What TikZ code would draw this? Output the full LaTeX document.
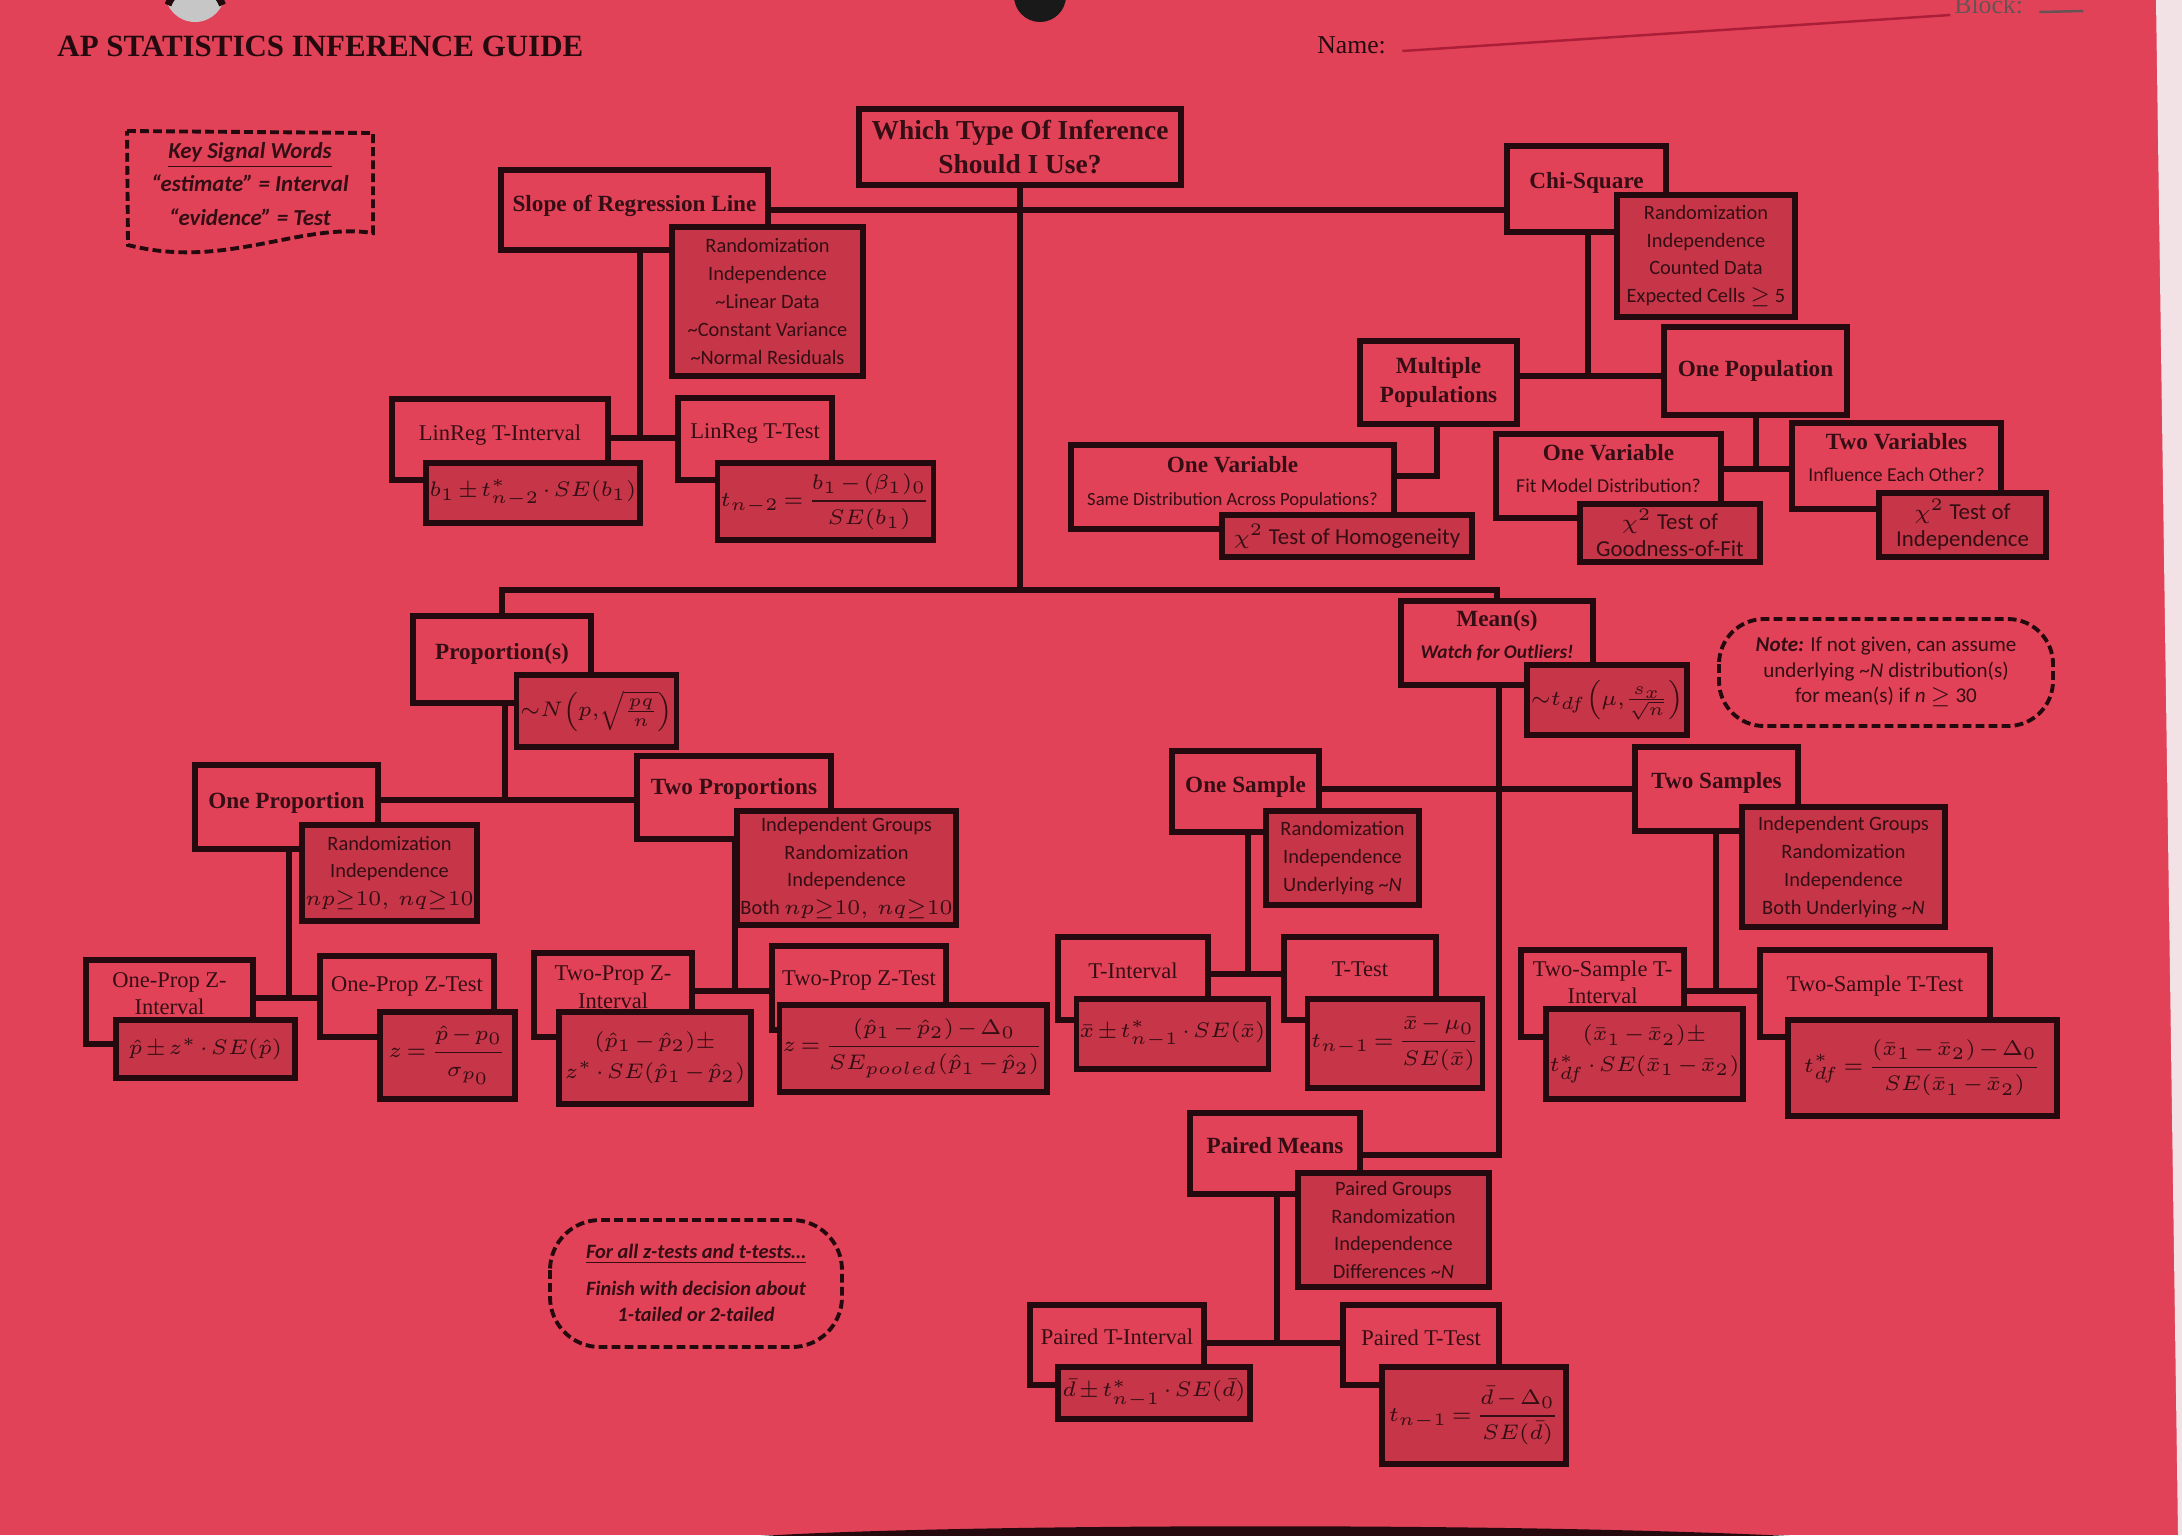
\documentclass[tikz,border=0pt]{standalone}
\usepackage{amsmath}
\usepackage{fontspec}
\setmainfont{Liberation Serif}
\newfontfamily\calfont{Carlito}
\newcommand{\tld}{{\char"7E}}
\newcommand{\mcomp}{\medmuskip=2mu\relax\thickmuskip=3mu\relax}
\definecolor{paper}{RGB}{226,66,88}
\definecolor{dk}{RGB}{198,54,72}
\definecolor{ink}{RGB}{36,10,14}
\definecolor{txt}{RGB}{52,14,20}
\definecolor{edgec}{RGB}{242,226,230}
\definecolor{pen}{RGB}{170,30,55}
\tikzset{
  box/.style={draw=ink, line width=1.5pt, fill=paper, inner sep=1pt, align=center, text=txt},
  sub/.style={box, fill=dk},
  hd/.style={font=\fontsize{6.6}{8.2}\selectfont\bfseries},
  lb/.style={font=\fontsize{6.4}{7.8}\selectfont},
  cd/.style={font=\calfont\fontsize{5.8}{7.9}\selectfont},
  big/.style={font=\calfont\fontsize{6.5}{7.8}\selectfont},
  fm/.style={font=\fontsize{6.2}{8.8}\selectfont},
  lift/.style={text depth=#1},
  link/.style={draw=ink, line width=1.5pt},
  dashline/.style={draw=ink, line width=1.1pt, dash pattern=on 2.5pt off 1.2pt},
  notetxt/.style={align=center, text=txt, font=\calfont\fontsize{6}{7.3}\selectfont},
}
\newcommand{\bx}[7]{\node[#1, minimum width={(#5-#3)*0.01cm}, minimum height={(#6-#4)*0.01cm}] (#2) at ({(#3+#5)/2},{(#4+#6)/2}) {#7};}
\begin{document}
\begin{tikzpicture}[x=0.01cm,y=-0.01cm]
\fill[paper] (0,0) rectangle (2182,1535);
\useasboundingbox (0,0) rectangle (2182,1535);
\fill[edgec] (2156,0) -- (2182,0) -- (2182,1535) -- (2178,1535) -- cycle;
% binder holes
\fill[gray!45] (195,-8) circle (30);
\draw[ink, line width=2pt] (168,5) arc (200:340:29);
\fill[black!90] (1040,-4) circle (26);
\fill[ink] (760,1536) .. controls (950,1524) and (1500,1522) .. (1790,1536) -- cycle;

% header
\node[anchor=west, font=\fontsize{8.8}{10}\selectfont\bfseries, text=ink] (title) at (45,46) {AP STATISTICS INFERENCE GUIDE};
\node[anchor=west, font=\fontsize{7.3}{9}\selectfont, text=ink] (namelbl) at (1305,45) {Name:};
\draw[pen, line width=0.7pt] (namelbl.east) ++(4,6) -- ++(548,-36);
\node[anchor=west, font=\fontsize{7.3}{9}\selectfont, text=ink!70] (blocklbl) at (1942,5) {Block:};
\draw[ink!70, line width=0.7pt] (blocklbl.east) ++(4,7) -- ++(44,-1);

% key signal words
\draw[dashline] (127,131) -- (373,133) -- (373,233) .. controls (300,222) and (225,270) .. (128,245) -- cycle;
\node[align=center, text=txt, font=\calfont\fontsize{6.5}{9.4}\selectfont\bfseries\itshape] (keysig) at (250,184) {\underline{Key Signal Words}\\“estimate” = Interval\\“evidence” = Test};

% junctions
\coordinate (hub) at (1023,590);
\coordinate (sj) at (640,438);
\coordinate (cj) at (1588,376);
\coordinate (mj) at (1437,476);
\coordinate (oj) at (1756,469);
\coordinate (pj) at (505,800);
\coordinate (opj) at (289,998);
\coordinate (tpj) at (735,991);
\coordinate (mnj) at (1499,789);
\coordinate (mnk) at (1499,1155);
\coordinate (osj) at (1248,974);
\coordinate (tsj) at (1716,991);
\coordinate (pmj) at (1277,1343);

% main boxes
\bx{box,font=\fontsize{7.8}{9.4}\selectfont\bfseries}{root}{859}{109}{1181}{185}{Which Type Of Inference\\Should I Use?}
\bx{box,hd,lift=3.9pt}{slope}{501}{170}{768}{250}{Slope of Regression Line}
\bx{box,lb,lift=3.9pt}{lrint}{392}{399}{608}{480}{LinReg T-Interval}
\bx{box,lb,lift=4.3pt}{lrtest}{678}{398}{832}{480}{LinReg T-Test}
\bx{box,hd,lift=4.7pt}{chi}{1507}{146}{1666}{232}{Chi-Square}
\bx{box,hd}{multi}{1360}{341}{1517}{424}{Multiple\\Populations}
\bx{box,hd}{onepop}{1664}{327}{1847}{415}{One Population}
\bx{box,hd,lift=3.5pt}{ov1}{1071}{445}{1394}{529}{One Variable\\[1pt]{\calfont\mdseries\fontsize{5.3}{6}\selectfont Same Distribution Across Populations?}}
\bx{box,hd,lift=4.3pt}{ov2}{1496}{434}{1721}{518}{One Variable\\[1pt]{\calfont\mdseries\fontsize{5.6}{6}\selectfont Fit Model Distribution?}}
\bx{box,hd,lift=4.7pt}{twov}{1792}{423}{2001}{509}{Two Variables\\[1pt]{\calfont\mdseries\fontsize{5.6}{6}\selectfont Influence Each Other?}}
\bx{box,hd,lift=4.7pt}{prop}{413}{616}{591}{703}{Proportion(s)}
\bx{box,hd,lift=3.9pt}{oneprop}{195}{765}{378}{849}{One Proportion}
\bx{box,hd,lift=6.2pt}{twoprop}{637}{756}{831}{839}{Two Proportions}
\bx{box,lb,lift=4.7pt}{opzi}{86}{960}{253}{1044}{One-Prop Z-\\Interval}
\bx{box,lb,lift=7pt}{opzt}{320}{956}{494}{1037}{One-Prop Z-Test}
\bx{box,lb,lift=4.5pt}{tpzi}{534}{953}{692}{1037}{Two-Prop Z-\\Interval}
\bx{box,lb,lift=5.5pt}{tpzt}{772}{946}{946}{1030}{Two-Prop Z-Test}
\bx{box,hd,lift=5pt}{means}{1401}{601}{1593}{685}{Mean(s)\\[1pt]{\calfont\fontsize{5.5}{6}\selectfont\itshape Watch for Outliers!}}
\bx{box,hd,lift=3.9pt}{onesamp}{1172}{751}{1319}{832}{One Sample}
\bx{box,hd,lift=4.7pt}{twosamp}{1635}{747}{1798}{831}{Two Samples}
\bx{box,lb,lift=4.7pt}{tint}{1058}{937}{1208}{1020}{T-Interval}
\bx{box,lb,lift=5.5pt}{ttest}{1284}{937}{1436}{1020}{T-Test}
\bx{box,lb,lift=6.6pt}{tsint}{1521}{950}{1684}{1037}{Two-Sample T-\\Interval}
\bx{box,lb,lift=5.5pt}{tstest}{1760}{950}{1990}{1037}{Two-Sample T-Test}
\bx{box,hd,lift=4.7pt}{paired}{1190}{1113}{1360}{1194}{Paired Means}
\bx{box,lb,lift=4.7pt}{ptint}{1030}{1305}{1204}{1385}{Paired T-Interval}
\bx{box,lb,lift=4.3pt}{pttest}{1343}{1305}{1499}{1385}{Paired T-Test}

% connector lines
\draw[link] (root.south) -- (root.south |- hub);
\draw[link] (slope.east) -- (chi.west |- slope.east);
\draw[link] (prop.north) -- (prop.north |- hub) -- (means.north |- hub) -- (means.north);
\draw[link] (slope.south -| sj) -- (sj);
\draw[link] (lrint.east |- sj) -- (lrtest.west |- sj);
\draw[link] (chi.south -| cj) -- (cj);
\draw[link] (multi.east |- cj) -- (onepop.west |- cj);
\draw[link] (multi.south -| mj) -- (mj) -- (ov1.east |- mj);
\draw[link] (onepop.south -| oj) -- (oj);
\draw[link] (ov2.east |- oj) -- (twov.west |- oj);
\draw[link] (prop.south -| pj) -- (pj);
\draw[link] (oneprop.east |- pj) -- (twoprop.west |- pj);
\draw[link] (oneprop.south -| opj) -- (opj);
\draw[link] (opzi.east |- opj) -- (opzt.west |- opj);
\draw[link] (twoprop.south -| tpj) -- (tpj);
\draw[link] (tpzi.east |- tpj) -- (tpzt.west |- tpj);
\draw[link] (means.south -| mnj) -- (mnk) -- (paired.east |- mnk);
\draw[link] (onesamp.east |- mnj) -- (twosamp.west |- mnj);
\draw[link] (onesamp.south -| osj) -- (osj);
\draw[link] (tint.east |- osj) -- (ttest.west |- osj);
\draw[link] (twosamp.south -| tsj) -- (tsj);
\draw[link] (tsint.east |- tsj) -- (tstest.west |- tsj);
\draw[link] (paired.south -| pmj) -- (pmj);
\draw[link] (ptint.east |- pmj) -- (pttest.west |- pmj);

% sub boxes
\bx{sub,cd}{slopec}{672}{227}{863}{376}{Randomization\\Independence\\\tld Linear Data\\\tld Constant Variance\\\tld Normal Residuals}
\bx{sub,fm}{lrintf}{429}{463}{637}{523}{$\mcomp b_1 \pm t^*_{n-2}\cdot SE(b_1)$}
\bx{sub,fm}{lrtestf}{721}{463}{930}{540}{$\mcomp\displaystyle t_{n-2}=\frac{b_1-(\beta_1)_0}{SE(b_1)}$}
\bx{sub,cd}{chic}{1617}{195}{1795}{317}{Randomization\\Independence\\Counted Data\\Expected Cells $\geq$ 5}
\bx{sub,big}{homog}{1222}{515}{1472}{557}{$\chi^2$ Test of Homogeneity}
\bx{sub,big}{gof}{1580}{504}{1760}{562}{$\chi^2$ Test of\\Goodness-of-Fit}
\bx{sub,big}{indep}{1879}{493}{2046}{557}{$\chi^2$ Test of\\Independence}
\bx{sub,fm}{propf}{525}{675}{668}{747}{$\mcomp\sim\! N\!\left(p,\!\sqrt{\tfrac{pq}{n}}\right)$}
\bx{sub,cd}{onepropc}{309}{825}{470}{921}{Randomization\\Independence\\$np{\geq}10,\ nq{\geq}10$}
\bx{sub,cd}{twopropc}{751}{811}{942}{925}{Independent Groups\\Randomization\\Independence\\Both $np{\geq}10,\ nq{\geq}10$}
\bx{sub,fm}{opzif}{116}{1020}{295}{1078}{$\mcomp\hat p \pm z^*\cdot SE(\hat p)$}
\bx{sub,fm}{opztf}{380}{1012}{515}{1099}{$\mcomp\displaystyle z=\frac{\hat p-p_0}{\sigma_{p_0}}$}
\bx{sub,fm}{tpzif}{559}{1012}{751}{1104}{$\mcomp(\hat p_1-\hat p_2)\pm$\\$\mcomp z^*\cdot SE(\hat p_1-\hat p_2)$}
\bx{sub,fm}{tpztf}{786}{1005}{1040}{1092}{$\mcomp\displaystyle z=\frac{(\hat p_1-\hat p_2)-\Delta_0}{SE_{pooled}(\hat p_1-\hat p_2)}$}
\bx{sub,fm}{meansf}{1527}{665}{1687}{735}{$\mcomp\sim\! t_{df}\!\left(\mu,\!\tfrac{s_x}{\sqrt{n}}\right)$}
\bx{sub,cd}{onesampc}{1266}{811}{1419}{905}{Randomization\\Independence\\Underlying \tld\textit{N}}
\bx{sub,cd}{twosampc}{1742}{807}{1945}{927}{Independent Groups\\Randomization\\Independence\\Both Underlying \tld\textit{N}}
\bx{sub,fm}{tintf}{1081}{999}{1264}{1069}{$\mcomp\bar x\pm t^*_{n-1}\cdot SE(\bar x)$}
\bx{sub,fm}{ttestf}{1312}{999}{1478}{1088}{$\mcomp\displaystyle t_{n-1}=\frac{\bar x-\mu_0}{SE(\bar x)}$}
\bx{sub,fm}{tsintf}{1547}{1009}{1742}{1099}{$\mcomp(\bar x_1-\bar x_2)\pm$\\$\mcomp t^*_{df}\cdot SE(\bar x_1-\bar x_2)$}
\bx{sub,fm}{tstestf}{1788}{1020}{2057}{1116}{$\mcomp\displaystyle t^*_{df}=\frac{(\bar x_1-\bar x_2)-\Delta_0}{SE(\bar x_1-\bar x_2)}$}
\bx{sub,cd}{pairedc}{1298}{1173}{1489}{1287}{Paired Groups\\Randomization\\Independence\\Differences \tld\textit{N}}
\bx{sub,fm}{ptintf}{1058}{1367}{1250}{1419}{$\mcomp\bar d\pm t^*_{n-1}\cdot SE(\bar d)$}
\bx{sub,fm}{pttestf}{1382}{1367}{1566}{1464}{$\mcomp\displaystyle t_{n-1}=\frac{\bar d-\Delta_0}{SE(\bar d)}$}

% notes
\draw[dashline, rounded corners=0.45cm] (1719,619) rectangle (2053,726);
\node[notetxt] (note) at (1886,672) {\textbf{\textit{Note:}} If not given, can assume\\underlying \tld\textit{N} distribution(s)\\for mean(s) if \textit{n} $\geq$ 30};
\draw[dashline, rounded corners=0.5cm] (550,1220) rectangle (842,1347);
\node[notetxt, font=\calfont\fontsize{5.8}{7.4}\selectfont\bfseries\itshape] (forall) at (696,1283) {\underline{For all z-tests and t-tests\ldots}\\[3pt]Finish with decision about\\1-tailed or 2-tailed};
\end{tikzpicture}
\end{document}
